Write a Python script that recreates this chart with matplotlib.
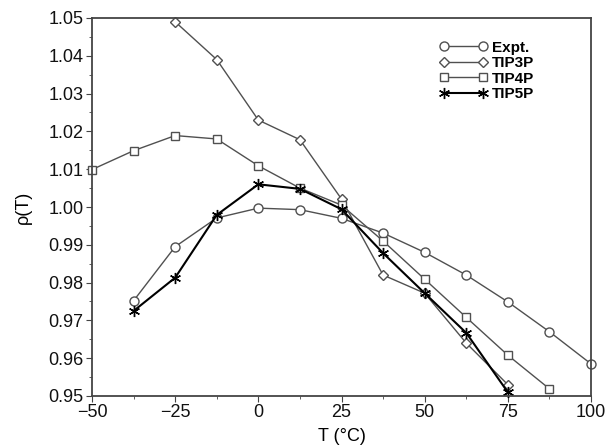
import numpy as np
import matplotlib
matplotlib.use("Agg")
import matplotlib.pyplot as plt
from matplotlib.ticker import MultipleLocator

plt.rcParams["font.family"] = ["Liberation Sans", "DejaVu Sans"]

# temperaturas (°C) e densidades
t_expt = [-37.5, -25, -12.5, 0, 12.5, 25, 37.5, 50, 62.5, 75, 87.5, 100]
rho_expt = [0.9752, 0.9895, 0.9971, 0.9997, 0.9993, 0.9970, 0.9931, 0.9880,
            0.9820, 0.9749, 0.9670, 0.9585]

t_tip3p = [-25, -12.5, 0, 12.5, 25, 37.5, 50, 62.5, 75]
rho_tip3p = [1.049, 1.039, 1.023, 1.0178, 1.0021, 0.9820, 0.9772, 0.9640, 0.9530]

t_tip4p = [-50, -37.5, -25, -12.5, 0, 12.5, 25, 37.5, 50, 62.5, 75, 87.5]
rho_tip4p = [1.0099, 1.0149, 1.0189, 1.0180, 1.0109, 1.0050, 1.0005, 0.9910,
             0.9809, 0.9708, 0.9608, 0.9519]

t_tip5p = [-37.5, -25, -12.5, 0, 12.5, 25, 37.5, 50, 62.5, 75]
rho_tip5p = [0.9725, 0.9813, 0.9979, 1.0060, 1.0048, 0.9994, 0.9878, 0.9772,
             0.9667, 0.9510]

cinza = "#505050"

fig = plt.figure(figsize=(6.06, 4.46), dpi=100)
ax = fig.add_axes([92 / 606, 1 - 396 / 446, (591 - 92) / 606, (396 - 18) / 446])

ax.plot(t_expt, rho_expt, "-o", color=cinza, mfc="white", mec=cinza,
        ms=6.5, lw=1.0, label="Expt.", clip_on=False)
ax.plot(t_tip3p, rho_tip3p, "-D", color=cinza, mfc="white", mec=cinza,
        ms=5, lw=1.0, label="TIP3P", clip_on=False)
ax.plot(t_tip4p, rho_tip4p, "-s", color=cinza, mfc="white", mec=cinza,
        ms=5.5, lw=1.0, label="TIP4P", clip_on=False)
ax.plot(t_tip5p, rho_tip5p, "-", marker=(6, 2, 0), color="black",
        mec="black", ms=8, mew=1.0, lw=1.5, label="TIP5P", clip_on=False)

ax.set_xlim(-50, 100)
ax.set_ylim(0.95, 1.05)
ax.xaxis.set_major_locator(MultipleLocator(25))
ax.xaxis.set_minor_locator(MultipleLocator(12.5))
ax.yaxis.set_major_locator(MultipleLocator(0.01))
ax.yaxis.set_minor_locator(MultipleLocator(0.005))
ax.yaxis.set_major_formatter(plt.FormatStrFormatter("%.2f"))
ax.tick_params(which="both", direction="out", top=False, right=False,
               labelsize=13, colors="#444444", labelcolor="#111111")
ax.tick_params(which="major", length=4, pad=2)
ax.tick_params(which="minor", length=2.5)
for lado in ax.spines.values():
    lado.set_color("#444444")
    lado.set_linewidth(1.3)

ax.set_xlabel("T (°C)", fontsize=13, labelpad=5)
ax.set_ylabel("ρ(T)", fontsize=13, labelpad=12)

leg = ax.legend(loc="upper left", bbox_to_anchor=(0.697, 0.94), frameon=False,
                numpoints=2, handlelength=3.1, handletextpad=0.3,
                labelspacing=0.1, borderpad=0, borderaxespad=0,
                prop={"weight": "bold", "size": 11})

fig.savefig("out.png", dpi=100)
